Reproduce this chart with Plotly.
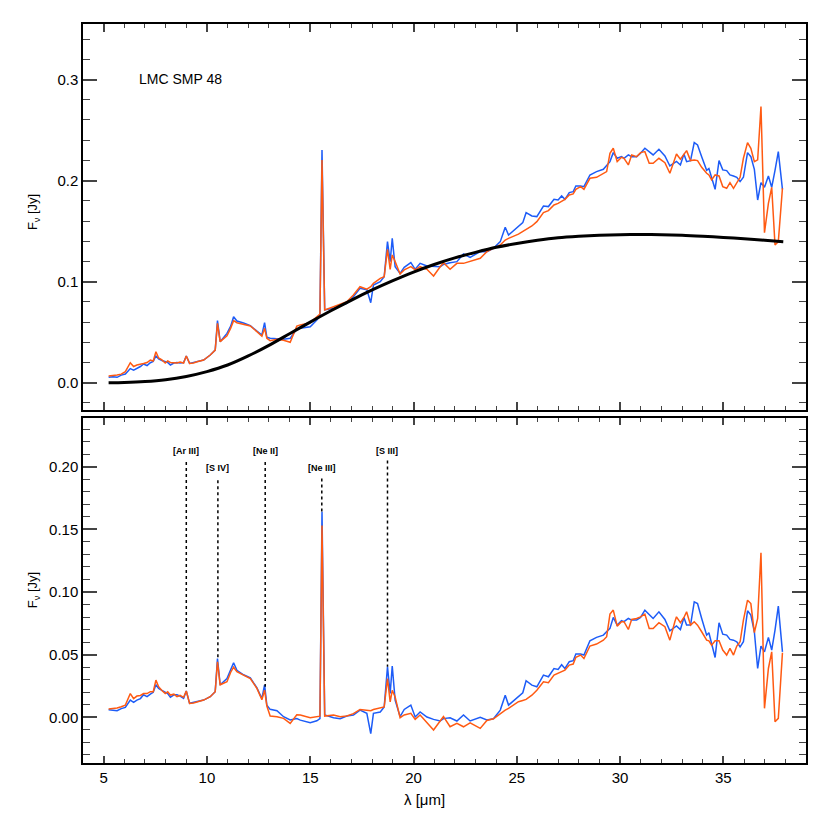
import plotly.graph_objects as go

# ---------------- data ----------------
wavelength = [
    5.24, 5.45, 5.65, 5.85, 6.05, 6.29, 6.45, 6.61, 6.78, 6.93, 7.10, 7.26, 7.40, 7.53, 7.66,
    7.82, 7.98, 8.10, 8.23, 8.40, 8.55, 8.70, 8.87, 9.00, 9.16, 9.35, 9.52, 9.84, 10.16, 10.40,
    10.51, 10.64, 10.97, 11.15, 11.29, 11.45, 11.77, 12.10, 12.42, 12.66, 12.79, 12.90, 13.06,
    13.39, 13.71, 14.03, 14.35, 14.52, 15.00, 15.32, 15.47, 15.57, 15.70, 16.13, 16.45, 16.77,
    17.09, 17.41, 17.74, 17.93, 18.06, 18.39, 18.58, 18.74, 18.87, 18.97, 19.11, 19.35, 19.55,
    19.87, 20.08, 20.32, 20.65, 20.97, 21.29, 21.45, 21.77, 22.10, 22.42, 22.74, 23.23, 23.55,
    23.87, 24.20, 24.44, 24.60, 25.08, 25.29, 25.45, 25.73, 25.97, 26.29, 26.53, 26.80, 27.00,
    27.17, 27.33, 27.54, 27.73, 27.86, 28.09, 28.25, 28.54, 28.86, 29.19, 29.35, 29.51, 29.67,
    29.86, 30.07, 30.19, 30.40, 30.56, 30.80, 30.99, 31.20, 31.41, 31.60, 31.88, 32.17, 32.41,
    32.65, 32.73, 32.92, 33.09, 33.22, 33.41, 33.59, 33.75, 33.95, 34.19, 34.30, 34.43, 34.60,
    34.79, 34.97, 35.16, 35.32, 35.49, 35.65, 35.81, 35.97, 36.17, 36.33, 36.50, 36.66, 36.82,
    36.99, 37.18, 37.34, 37.50, 37.66, 37.86,
]

# upper panel: observed flux (two reductions)
flux_blue = [
    0.0053, 0.0060, 0.0053, 0.0075, 0.0086, 0.0140, 0.0125, 0.0142, 0.0160, 0.0185, 0.0170, 0.0198, 0.0210, 0.0264, 0.0235,
    0.0220, 0.0208, 0.0200, 0.0175, 0.0195, 0.0200, 0.0195, 0.0200, 0.0264, 0.0191, 0.0200, 0.0208, 0.0224, 0.0274, 0.0323,
    0.0614, 0.0406, 0.0488, 0.0560, 0.0653, 0.0610, 0.0590, 0.0565, 0.0510, 0.0472, 0.0594, 0.0449, 0.0440,
    0.0435, 0.0430, 0.0440, 0.0530, 0.0539, 0.0554, 0.0620, 0.0660, 0.2304, 0.0720, 0.0736, 0.0760, 0.0785,
    0.0851, 0.0934, 0.0920, 0.0792, 0.0967, 0.1000, 0.1049, 0.1396, 0.1198, 0.1429, 0.1148, 0.1082, 0.1142,
    0.1188, 0.1122, 0.1181, 0.1155, 0.1155, 0.1148, 0.1170, 0.1188, 0.1198, 0.1274, 0.1241, 0.1297, 0.1297,
    0.1330, 0.1396, 0.1538, 0.1462, 0.1545, 0.1584, 0.1683, 0.1650, 0.1644, 0.1749, 0.1743, 0.1815, 0.1808,
    0.1848, 0.1815, 0.1881, 0.1891, 0.1947, 0.1947, 0.1940, 0.2056, 0.2089, 0.2112, 0.2145, 0.2188, 0.2277,
    0.2221, 0.2237, 0.2221, 0.2254, 0.2237, 0.2237, 0.2270, 0.2320, 0.2287, 0.2254, 0.2310, 0.2244, 0.2145,
    0.2178, 0.2190, 0.2155, 0.2264, 0.2188, 0.2198, 0.2376, 0.2353, 0.2237, 0.2102, 0.2119, 0.2023, 0.1914,
    0.2198, 0.2106, 0.2099, 0.2056, 0.2046, 0.2033, 0.1990, 0.2033, 0.2277, 0.2237, 0.2112, 0.1808, 0.1980,
    0.1934, 0.2046, 0.1934, 0.2102, 0.2287, 0.1914,
]
flux_orange = [
    0.0066, 0.0070, 0.0076, 0.0085, 0.0109, 0.0198, 0.0160, 0.0175, 0.0180, 0.0190, 0.0200, 0.0224, 0.0215, 0.0307, 0.0245,
    0.0225, 0.0195, 0.0215, 0.0200, 0.0200, 0.0195, 0.0205, 0.0195, 0.0264, 0.0191, 0.0195, 0.0208, 0.0224, 0.0274, 0.0323,
    0.0587, 0.0406, 0.0465, 0.0540, 0.0614, 0.0594, 0.0581, 0.0561, 0.0505, 0.0460, 0.0538, 0.0440, 0.0416,
    0.0430, 0.0420, 0.0400, 0.0560, 0.0572, 0.0594, 0.0653, 0.0680, 0.2205, 0.0720, 0.0752, 0.0780, 0.0802,
    0.0868, 0.0950, 0.0925, 0.0950, 0.0983, 0.1033, 0.1049, 0.1320, 0.1122, 0.1264, 0.1198, 0.1076, 0.1116,
    0.1148, 0.1116, 0.1148, 0.1122, 0.1056, 0.1148, 0.1188, 0.1122, 0.1181, 0.1181, 0.1198, 0.1231, 0.1297,
    0.1330, 0.1363, 0.1412, 0.1429, 0.1470, 0.1495, 0.1512, 0.1551, 0.1594, 0.1683, 0.1703, 0.1759, 0.1775,
    0.1792, 0.1815, 0.1858, 0.1868, 0.1914, 0.1940, 0.1914, 0.2023, 0.2033, 0.2073, 0.2089, 0.2270, 0.2320,
    0.2188, 0.2231, 0.2221, 0.2155, 0.2254, 0.2237, 0.2277, 0.2287, 0.2171, 0.2171, 0.2221, 0.2178, 0.2073,
    0.2221, 0.2264, 0.2211, 0.2264, 0.2297, 0.2198, 0.2204, 0.2198, 0.2132, 0.2073, 0.2056, 0.2007, 0.2056,
    0.2046, 0.1941, 0.1924, 0.1980, 0.1924, 0.1980, 0.2033, 0.2221, 0.2376, 0.2320, 0.2188, 0.2205, 0.2733,
    0.1485, 0.1775, 0.1934, 0.1363, 0.1396, 0.1924,
]

# lower panel: residual flux after removing the dust continuum
resid_blue = [
    0.0060, 0.0055, 0.0053, 0.0070, 0.0080, 0.0138, 0.0120, 0.0138, 0.0150, 0.0180, 0.0165, 0.0186, 0.0200, 0.0260, 0.0231,
    0.0215, 0.0200, 0.0190, 0.0160, 0.0180, 0.0180, 0.0170, 0.0151, 0.0210, 0.0112, 0.0118, 0.0125, 0.0138, 0.0165, 0.0205,
    0.0470, 0.0260, 0.0310, 0.0380, 0.0436, 0.0375, 0.0340, 0.0315, 0.0235, 0.0151, 0.0260, 0.0098, 0.0064,
    0.0053, 0.0005, -0.0020, -0.0010, -0.0022, -0.0043, -0.0027, -0.0010, 0.1640, 0.0019, -0.0003, -0.0011, 0.0011,
    0.0019, 0.0058, 0.0032, -0.0129, 0.0032, 0.0043, 0.0083, 0.0404, 0.0190, 0.0410, 0.0138, 0.0006, 0.0063,
    0.0098, 0.0003, 0.0043, 0.0003, -0.0016, -0.0029, -0.0010, -0.0003, -0.0029, 0.0019, -0.0029, 0.0001, -0.0020,
    -0.0011, 0.0058, 0.0176, 0.0098, 0.0165, 0.0196, 0.0292, 0.0257, 0.0244, 0.0337, 0.0324, 0.0390, 0.0382,
    0.0420, 0.0390, 0.0444, 0.0452, 0.0505, 0.0505, 0.0497, 0.0611, 0.0638, 0.0656, 0.0683, 0.0710, 0.0797,
    0.0736, 0.0771, 0.0763, 0.0789, 0.0776, 0.0776, 0.0797, 0.0855, 0.0824, 0.0789, 0.0842, 0.0781, 0.0691,
    0.0723, 0.0730, 0.0701, 0.0797, 0.0736, 0.0736, 0.0922, 0.0908, 0.0789, 0.0656, 0.0675, 0.0590, 0.0478,
    0.0755, 0.0664, 0.0656, 0.0622, 0.0616, 0.0603, 0.0563, 0.0603, 0.0850, 0.0816, 0.0683, 0.0390, 0.0568,
    0.0523, 0.0638, 0.0537, 0.0696, 0.0888, 0.0523,
]
resid_orange = [
    0.0066, 0.0070, 0.0075, 0.0085, 0.0098, 0.0190, 0.0150, 0.0170, 0.0175, 0.0190, 0.0190, 0.0205, 0.0205, 0.0297, 0.0245,
    0.0215, 0.0190, 0.0205, 0.0178, 0.0185, 0.0165, 0.0175, 0.0160, 0.0210, 0.0112, 0.0115, 0.0125, 0.0138, 0.0165, 0.0205,
    0.0444, 0.0260, 0.0284, 0.0360, 0.0400, 0.0364, 0.0337, 0.0310, 0.0231, 0.0140, 0.0217, 0.0090, 0.0011,
    0.0005, -0.0008, -0.0048, 0.0021, 0.0019, -0.0003, 0.0006, 0.0010, 0.1530, 0.0010, 0.0019, 0.0006, 0.0011,
    0.0030, 0.0063, 0.0058, 0.0053, 0.0063, 0.0079, 0.0083, 0.0310, 0.0123, 0.0216, 0.0163, -0.0003, 0.0019,
    0.0032, -0.0016, 0.0019, -0.0043, -0.0101, -0.0029, 0.0006, -0.0075, -0.0048, -0.0075, -0.0043, -0.0088, -0.0025,
    -0.0011, 0.0032, 0.0058, 0.0072, 0.0125, 0.0135, 0.0143, 0.0177, 0.0217, 0.0284, 0.0276, 0.0337, 0.0350,
    0.0364, 0.0377, 0.0417, 0.0425, 0.0479, 0.0497, 0.0470, 0.0569, 0.0585, 0.0616, 0.0643, 0.0824, 0.0856,
    0.0728, 0.0763, 0.0763, 0.0701, 0.0781, 0.0789, 0.0802, 0.0824, 0.0709, 0.0709, 0.0755, 0.0723, 0.0616,
    0.0763, 0.0802, 0.0755, 0.0797, 0.0842, 0.0736, 0.0763, 0.0736, 0.0683, 0.0616, 0.0611, 0.0576, 0.0611,
    0.0611, 0.0537, 0.0497, 0.0550, 0.0497, 0.0569, 0.0603, 0.0776, 0.0935, 0.0908, 0.0676, 0.0789, 0.1313,
    0.0072, 0.0390, 0.0523, -0.0035, -0.0008, 0.0515,
]

# dust continuum (black curve, upper panel)
bb_wavelength = [5.24, 6.0, 7.0, 8.0, 9.0, 10.0, 11.0, 12.0, 13.0, 14.0, 15.0, 16.0, 17.0, 18.0, 19.0,
                 20.0, 21.0, 22.0, 23.0, 24.0, 25.0, 26.0, 27.0, 28.0, 29.0, 30.0, 31.0, 32.0, 33.0,
                 34.0, 35.0, 36.0, 37.0, 37.9]
bb_flux = [0.0, 0.0003, 0.0012, 0.0030, 0.0062, 0.0110, 0.0175, 0.0265, 0.0370, 0.0485, 0.0600, 0.0712,
           0.0818, 0.0918, 0.1010, 0.1095, 0.1170, 0.1235, 0.1290, 0.1340, 0.1378, 0.1410, 0.1435,
           0.1450, 0.1460, 0.1465, 0.1467, 0.1465, 0.1460, 0.1450, 0.1438, 0.1425, 0.1410, 0.1396]

# emission-line identifications (lower panel)
line_names = ["[Ar III]", "[S IV]", "[Ne II]", "[Ne III]", "[S III]"]
line_wavelength = [9.0, 10.53, 12.82, 15.56, 18.74]
line_label_level = [0.2126, 0.199, 0.2126, 0.199, 0.2126]
line_top = [0.2038, 0.1892, 0.2038, 0.1906, 0.2050]
line_bottom = [0.0218, 0.047, 0.0244, 0.164, 0.0404]

x_ticks = [5, 10, 15, 20, 25, 30, 35]
top_y_ticks = [0.0, 0.1, 0.2, 0.3]
bottom_y_ticks = [0.00, 0.05, 0.10, 0.15, 0.20]

# ---------------- figure ----------------
BLUE = "#1d5cf7"
ORANGE = "#ff5a12"
FONT = "Liberation Sans, Arial, sans-serif"

fig = go.Figure()

fig.add_trace(go.Scatter(x=wavelength, y=flux_blue, mode="lines",
                         line=dict(color=BLUE, width=1.5), xaxis="x", yaxis="y", showlegend=False))
fig.add_trace(go.Scatter(x=wavelength, y=flux_orange, mode="lines",
                         line=dict(color=ORANGE, width=1.5), xaxis="x", yaxis="y", showlegend=False))
fig.add_trace(go.Scatter(x=bb_wavelength, y=bb_flux, mode="lines",
                         line=dict(color="black", width=3, shape="spline", smoothing=0.8),
                         xaxis="x", yaxis="y", showlegend=False))

fig.add_trace(go.Scatter(x=wavelength, y=resid_blue, mode="lines",
                         line=dict(color=BLUE, width=1.5), xaxis="x2", yaxis="y2", showlegend=False))
fig.add_trace(go.Scatter(x=wavelength, y=resid_orange, mode="lines",
                         line=dict(color=ORANGE, width=1.5), xaxis="x2", yaxis="y2", showlegend=False))

for name, lw, lvl, ytop, ybot in zip(line_names, line_wavelength, line_label_level, line_top, line_bottom):
    fig.add_trace(go.Scatter(x=[lw, lw], y=[ytop, ybot], mode="lines",
                             line=dict(color="black", width=1.5, dash="dot"),
                             xaxis="x2", yaxis="y2", showlegend=False, hoverinfo="skip"))
    fig.add_annotation(x=lw, y=lvl, xref="x2", yref="y2", text="<b>%s</b>" % name,
                       showarrow=False, xanchor="center", yanchor="middle",
                       font=dict(family=FONT, size=9, color="black"))

axis_common = dict(showline=True, linecolor="black", linewidth=1.5, mirror="allticks",
                   ticks="inside", showgrid=False, zeroline=False,
                   tickfont=dict(family=FONT, size=15, color="black"))

# page body has an 8 px margin: figure is 822 px so the plot frame lands where the reference has it
fig.update_layout(
    width=822, height=822,
    margin=dict(l=75, r=24, t=16, b=67),
    paper_bgcolor="white", plot_bgcolor="white",
    xaxis=dict(domain=[0, 1], anchor="y", range=[4, 39], tickvals=x_ticks, showticklabels=False,
               ticklen=8, tickwidth=1.5,
               minor=dict(dtick=1, tick0=0, ticklen=4, tickwidth=1.2, ticks="inside"),
               **axis_common),
    yaxis=dict(domain=[0.4777, 1], anchor="x", range=[-0.027, 0.355], tickvals=top_y_ticks,
               tickformat=".1f", ticklen=14, tickwidth=1.5,
               minor=dict(dtick=0.02, tick0=0, ticklen=7, tickwidth=1.2, ticks="inside"),
               **axis_common),
    xaxis2=dict(domain=[0, 1], anchor="y2", range=[4, 39], tickvals=x_ticks,
                ticklen=7, tickwidth=1.5,
                minor=dict(dtick=1, tick0=0, ticklen=4, tickwidth=1.2, ticks="inside"),
                **axis_common),
    yaxis2=dict(domain=[0, 0.4668], anchor="x2", range=[-0.0364, 0.2388], tickvals=bottom_y_ticks,
                tickformat=".2f", ticklen=14, tickwidth=1.5,
                minor=dict(dtick=0.01, tick0=0, ticklen=7, tickwidth=1.2, ticks="inside"),
                **axis_common),
)

fig.add_annotation(x=6.62, y=0.301, xref="x", yref="y", text="LMC SMP 48", showarrow=False,
                   xanchor="left", yanchor="middle", font=dict(family=FONT, size=14, color="black"))

for ypos in [0.7456, 0.234]:
    fig.add_annotation(x=-0.069, y=ypos, xref="paper", yref="paper",
                       text="F<sub>ν</sub> [Jy]", showarrow=False, textangle=-90,
                       xanchor="center", yanchor="middle",
                       font=dict(family=FONT, size=13, color="black"))

fig.add_annotation(x=0.473, y=-0.05, xref="paper", yref="paper", text="λ [μm]",
                   showarrow=False, xanchor="center", yanchor="middle",
                   font=dict(family=FONT, size=15, color="black"))

fig.write_html("out.html")
